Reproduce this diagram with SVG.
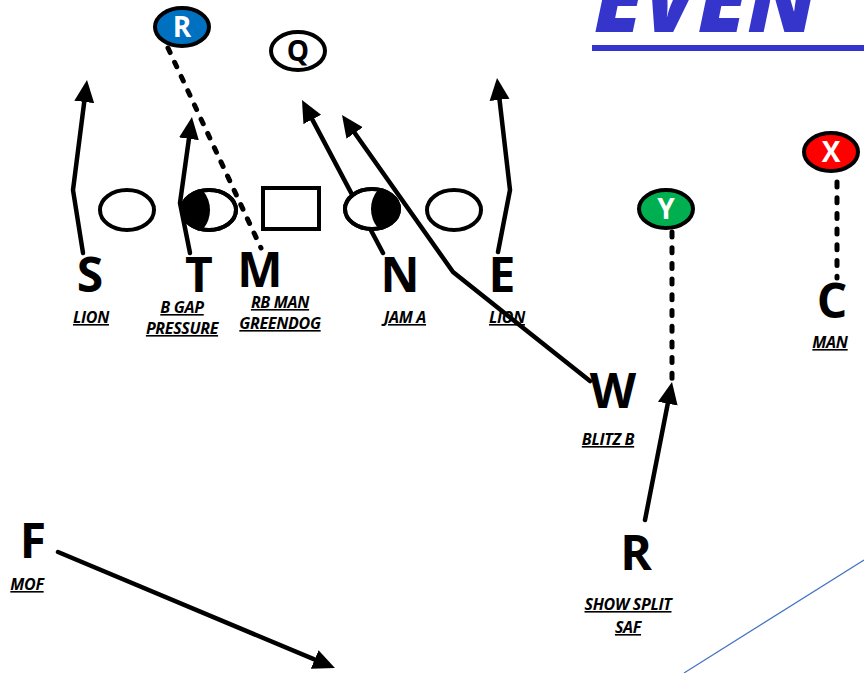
<svg xmlns="http://www.w3.org/2000/svg" width="864" height="673" viewBox="0 0 864 673">
<style>
.big{font-family:"Open Sans","Liberation Sans",sans-serif;font-weight:700;font-size:48px;fill:#000;text-anchor:middle}
.lbl{font-family:"Open Sans","Liberation Sans",sans-serif;font-weight:700;font-style:italic;font-size:16px;fill:#000;text-anchor:middle;text-decoration:underline;letter-spacing:-0.3px}
.oval{stroke:#000;stroke-width:4;fill:#fff}
.rte{fill:none;stroke:#000;stroke-width:4.5;stroke-linecap:round;stroke-linejoin:round}
.dot{fill:none;stroke:#000;stroke-width:5;stroke-linecap:round;stroke-dasharray:5 10.7}
.olet{font-family:"Open Sans","Liberation Sans",sans-serif;font-weight:700;font-size:28px;text-anchor:middle}
</style>
<defs>
<marker id="ah" markerUnits="userSpaceOnUse" viewBox="0 0 22 22" markerWidth="22" markerHeight="22" refX="10" refY="11" orient="auto">
<path d="M0,1 L22,11 L0,21 z" fill="#000"/>
</marker>
<clipPath id="cT"><ellipse cx="209" cy="210" rx="27" ry="20"/></clipPath>
<clipPath id="cN"><ellipse cx="372" cy="209" rx="27" ry="20"/></clipPath>
</defs>

<g id="title">
<text x="594" y="32" font-family="Open Sans, Liberation Sans, sans-serif" font-weight="800" font-style="italic" font-size="88" fill="#3535CC">EVEN</text>
<rect x="592" y="45" width="272" height="6" fill="#3535CC"/>
</g>

<g id="connectors">
<line x1="168" y1="48" x2="261" y2="248" class="dot" stroke-dasharray="4 10"/>
<line x1="672" y1="232" x2="672" y2="380" class="dot"/>
<line x1="837" y1="182" x2="837" y2="278" class="dot"/>
<polyline class="rte" points="83,253 73,190 85.5,92" marker-end="url(#ah)"/>
<polyline class="rte" points="190,253 180,203 190.3,128.9" marker-end="url(#ah)"/>
<polyline class="rte" points="498,252 510,190 498.4,89.9" marker-end="url(#ah)"/>
<polyline class="rte" points="383,253 307.6,110.6" marker-end="url(#ah)"/>
<polyline class="rte" points="590,381 453,272 348.9,124.8" marker-end="url(#ah)"/>
<polyline class="rte" points="645,520 669.7,393.8" marker-end="url(#ah)"/>
<polyline class="rte" points="58,552 323.9,663.4" marker-end="url(#ah)"/>
<line x1="684" y1="673" x2="864" y2="560" stroke="#4472C4" stroke-width="1.2"/>
</g>

<g id="node-R-top">
<ellipse cx="182" cy="27" rx="27" ry="19" fill="#0070C0" stroke="#000" stroke-width="4"/>
<text x="182" y="37" class="olet" fill="#fff">R</text>
</g>
<g id="node-Q">
<ellipse cx="298" cy="51" rx="27" ry="19" class="oval"/>
<text x="298" y="61" class="olet" fill="#000">Q</text>
</g>
<g id="node-Y">
<ellipse cx="666" cy="209" rx="27" ry="19" fill="#00B050" stroke="#000" stroke-width="4"/>
<text x="666" y="219" class="olet" fill="#fff">Y</text>
</g>
<g id="node-X">
<ellipse cx="831" cy="152" rx="27" ry="19" fill="#FF0000" stroke="#000" stroke-width="4"/>
<text x="831" y="162" class="olet" fill="#fff">X</text>
</g>

<g id="node-LT">
<ellipse cx="127" cy="210" rx="27" ry="20" class="oval"/>
</g>
<g id="node-LG">
<ellipse cx="209" cy="210" rx="27" ry="20" class="oval"/>
<ellipse cx="188" cy="210" rx="22" ry="26" fill="#000" clip-path="url(#cT)"/>
<ellipse cx="209" cy="210" rx="27" ry="20" fill="none" stroke="#000" stroke-width="4"/>
</g>
<g id="node-C">
<rect x="263" y="188" width="56" height="41" fill="#fff" stroke="#000" stroke-width="4"/>
</g>
<g id="node-RG">
<ellipse cx="372" cy="209" rx="27" ry="20" class="oval"/>
<ellipse cx="393" cy="209" rx="22" ry="26" fill="#000" clip-path="url(#cN)"/>
<ellipse cx="372" cy="209" rx="27" ry="20" fill="none" stroke="#000" stroke-width="4"/>
</g>
<g id="node-RT">
<ellipse cx="454" cy="210" rx="27" ry="20" class="oval"/>
</g>

<g id="node-S"><text x="90" y="292" class="big">S</text><text x="91" y="323" class="lbl">LION</text></g>
<g id="node-T"><text x="199" y="292" class="big">T</text><text x="182" y="313" class="lbl">B GAP</text><text x="182" y="334" class="lbl">PRESSURE</text></g>
<g id="node-M"><text x="260" y="287" class="big">M</text><text x="280" y="308" class="lbl">RB MAN</text><text x="280" y="329" class="lbl">GREENDOG</text></g>
<g id="node-N"><text x="400" y="292" class="big">N</text><text x="405" y="323" class="lbl">JAM A</text></g>
<g id="node-E"><text x="502" y="292" class="big">E</text><text x="507" y="323" class="lbl">LION</text></g>
<g id="node-Cb"><text x="832" y="318" class="big">C</text><text x="830" y="348" class="lbl">MAN</text></g>
<g id="node-W"><text x="613" y="408" class="big">W</text><text x="608" y="445" class="lbl">BLITZ B</text></g>
<g id="node-F"><text x="33" y="558" class="big">F</text><text x="27" y="590" class="lbl">MOF</text></g>
<g id="node-Rb"><text x="636" y="570" class="big">R</text><text x="628" y="610" class="lbl">SHOW SPLIT</text><text x="628" y="633" class="lbl">SAF</text></g>
</svg>
